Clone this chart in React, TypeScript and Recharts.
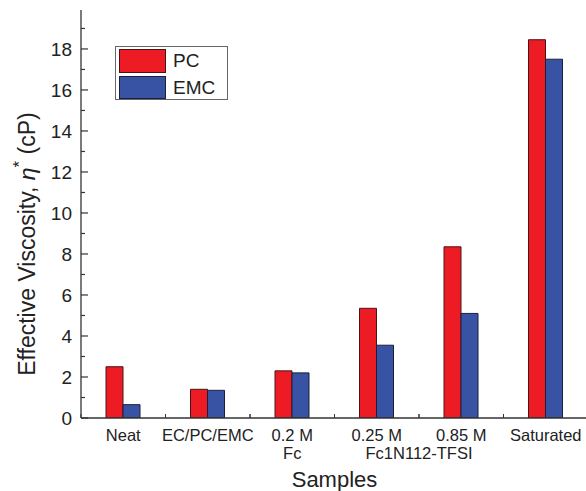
import React from 'react';
import { BarChart, Bar, XAxis, YAxis, Legend } from 'recharts';

// ---- data ----
const categories = ['Neat', 'EC/PC/EMC', '0.2 M', '0.25 M', '0.85 M', 'Saturated'];
const subLabels = ['', '', 'Fc', '', '', ''];
const groupLabel = 'Fc1N112-TFSI';
const groupStart = 3; // group label spans categories 3 and 4
const pcValues = [2.5, 1.4, 2.3, 5.35, 8.35, 18.45];
const emcValues = [0.65, 1.35, 2.2, 3.55, 5.1, 17.5];
const majorTicks = [0, 2, 4, 6, 8, 10, 12, 14, 16, 18];
const allTicks = [0, 1, 2, 3, 4, 5, 6, 7, 8, 9, 10, 11, 12, 13, 14, 15, 16, 17, 18, 19];
const yMax = 19.9;
const seriesNames = ['PC', 'EMC'];

const data = categories.map((c, i) => ({ name: c, PC: pcValues[i], EMC: emcValues[i] }));

// ---- styles / layout ----
const FONT = '"Liberation Sans", Arial, Helvetica, sans-serif';
const CHART_W = 600;
const CHART_H = 491;
const MARGIN = { top: 10, right: 12, bottom: 0, left: 0 };
const YAXIS_W = 81;
const XAXIS_H = 73;
const PLOT_W = CHART_W - MARGIN.left - YAXIS_W - MARGIN.right;
const BAND = PLOT_W / categories.length;
const AXIS_COLOR = '#333';
const TEXT_COLOR = '#222';
const COLORS: Record<string, { fill: string; stroke: string }> = {
  PC: { fill: '#ED1C24', stroke: '#4a1414' },
  EMC: { fill: '#3953A4', stroke: '#1b1f3a' },
};
const Y_LABEL_GAP = 9;

const LeftTick = (props: any) => {
  const { x, y, payload } = props;
  const v = payload.value;
  const major = majorTicks.includes(v);
  const ax = x + Y_LABEL_GAP;
  return (
    <g>
      <line x1={ax} x2={ax + (major ? 7 : 4)} y1={y} y2={y} stroke={AXIS_COLOR} strokeWidth={1.2} />
      {major && (
        <text x={x} y={y} dy="0.36em" textAnchor="end" fontSize={19} fill={TEXT_COLOR} fontFamily={FONT}>
          {v}
        </text>
      )}
    </g>
  );
};

const RightTick = (props: any) => {
  const { x, y, payload } = props;
  const major = majorTicks.includes(payload.value);
  return <line x1={x} x2={x - (major ? 7 : 4)} y1={y} y2={y} stroke={AXIS_COLOR} strokeWidth={1.2} />;
};

const TopTick = (props: any) => {
  const { x, y } = props;
  return (
    <g>
      {[x - BAND / 2, x, x + BAND / 2].map((tx, i) => (
        <line key={i} x1={tx} x2={tx} y1={y} y2={y + 4} stroke={AXIS_COLOR} strokeWidth={1} />
      ))}
    </g>
  );
};

const BottomTick = (props: any) => {
  const { x, y, index } = props;
  const t = { fontSize: 16.5, fill: TEXT_COLOR, fontFamily: FONT, textAnchor: 'middle' as const };
  return (
    <g>
      {[x - BAND / 2, x + BAND / 2].map((tx, i) => (
        <line key={i} x1={tx} x2={tx} y1={y} y2={y - 4} stroke={AXIS_COLOR} strokeWidth={1} />
      ))}
      <text x={x} y={y + 23} {...t}>{categories[index]}</text>
      {subLabels[index] && <text x={x} y={y + 41} {...t}>{subLabels[index]}</text>}
      {index === groupStart && <text x={x + BAND / 2} y={y + 41} {...t}>{groupLabel}</text>}
    </g>
  );
};

const YLabel = () => (
  <text
    x={27}
    y={244}
    transform="rotate(-90, 27, 244)"
    textAnchor="middle"
    dominantBaseline="central"
    fontSize={23}
    fill={TEXT_COLOR}
    fontFamily={FONT}
  >
    <tspan>Effective Viscosity, </tspan>
    <tspan fontStyle="italic">η</tspan>
    <tspan dy={-8} fontSize={17}>*</tspan>
    <tspan dy={8}> (cP)</tspan>
  </text>
);

const LegendBox = () => (
  <div
    style={{
      border: '1px solid #666',
      background: '#fff',
      width: 113,
      height: 54,
      boxSizing: 'border-box',
      padding: '2px 0 0 3px',
      fontFamily: FONT,
    }}
  >
    {seriesNames.map((n) => (
      <div key={n} style={{ display: 'flex', alignItems: 'center', height: 23.5, marginBottom: 3 }}>
        <div
          style={{
            width: 47,
            height: 23.5,
            boxSizing: 'border-box',
            background: COLORS[n].fill,
            border: `1px solid ${COLORS[n].stroke}`,
          }}
        />
        <span style={{ marginLeft: 7, fontSize: 19, color: TEXT_COLOR, lineHeight: '23px' }}>{n}</span>
      </div>
    ))}
  </div>
);

export default function App() {
  return (
    <div style={{ position: 'absolute', left: 0, top: 0, width: 586, height: 491, overflow: 'hidden', background: '#fff' }}>
      <BarChart width={CHART_W} height={CHART_H} data={data} margin={MARGIN} barGap={0} barSize={17}>
        <XAxis
          xAxisId="bottom"
          dataKey="name"
          height={XAXIS_H}
          tickSize={0}
          tickMargin={0}
          tickLine={false}
          interval={0}
          axisLine={{ stroke: AXIS_COLOR, strokeWidth: 1.3 }}
          tick={<BottomTick />}
          label={{
            value: 'Samples',
            position: 'insideBottom',
            offset: 4,
            style: { fontSize: 22, fill: TEXT_COLOR, fontFamily: FONT },
          }}
        />
        <XAxis
          xAxisId="top"
          dataKey="name"
          orientation="top"
          height={0}
          tickSize={0}
          tickMargin={0}
          tickLine={false}
          interval={0}
          axisLine={{ stroke: AXIS_COLOR, strokeWidth: 1.3 }}
          tick={<TopTick />}
        />
        <YAxis
          yAxisId="left"
          width={YAXIS_W}
          domain={[0, yMax]}
          ticks={allTicks}
          interval={0}
          allowDataOverflow
          tickSize={0}
          tickMargin={Y_LABEL_GAP}
          tickLine={false}
          axisLine={{ stroke: AXIS_COLOR, strokeWidth: 1.3 }}
          tick={<LeftTick />}
          label={YLabel}
        />
        <YAxis
          yAxisId="right"
          orientation="right"
          width={0}
          domain={[0, yMax]}
          ticks={allTicks}
          interval={0}
          allowDataOverflow
          tickSize={0}
          tickMargin={0}
          tickLine={false}
          axisLine={{ stroke: AXIS_COLOR, strokeWidth: 1.3 }}
          tick={<RightTick />}
        />
        <Legend
          layout="vertical"
          align="center"
          verticalAlign="middle"
          content={<LegendBox />}
          wrapperStyle={{ left: 115, top: 46, width: 113 }}
        />
        {seriesNames.map((n) => (
          <Bar
            key={n}
            dataKey={n}
            xAxisId="bottom"
            yAxisId="left"
            fill={COLORS[n].fill}
            stroke={COLORS[n].stroke}
            strokeWidth={1}
            isAnimationActive={false}
          />
        ))}
      </BarChart>
    </div>
  );
}
